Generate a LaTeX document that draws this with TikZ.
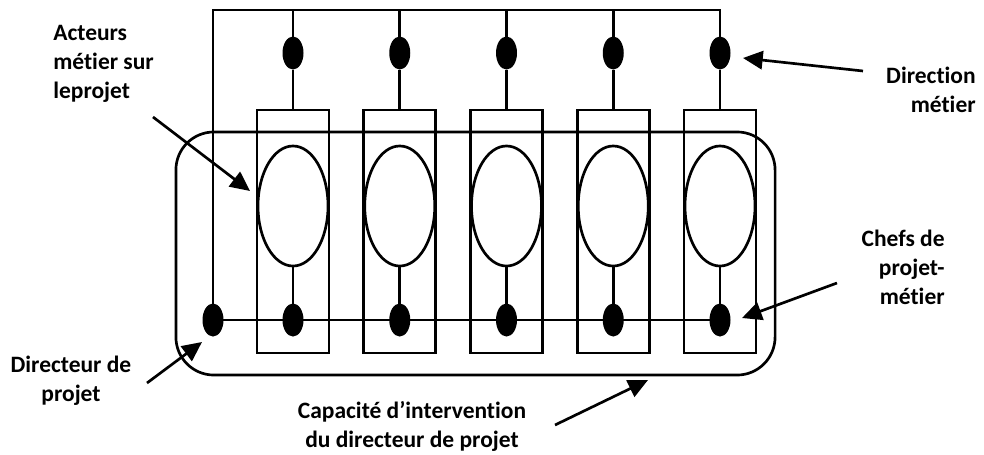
\documentclass[tikz,border=0pt]{standalone}
\usepackage{fontspec}
\setmainfont{Carlito}[Ligatures=NoCommon]
\usetikzlibrary{arrows.meta,shapes.geometric}

\begin{document}
\begin{tikzpicture}[x=0.025cm,y=-0.025cm,line width=1.9pt,
    dot/.style={ellipse,fill=black,inner sep=0pt,outer sep=0pt,minimum width=0.525cm,minimum height=0.825cm},
    colbox/.style={draw,inner sep=0pt,outer sep=0pt,minimum width=1.8cm,minimum height=6.075cm},
    oval/.style={draw,ellipse,inner sep=0pt,outer sep=0pt,minimum width=1.75cm,minimum height=3cm},
    lbl/.style={font=\fontsize{16.7}{20.5}\selectfont\bfseries,inner sep=0pt},
    pointer/.style={-{Triangle[length=14pt,width=13pt]}}]
      \useasboundingbox (0,0) rectangle (984,454);



      \node[draw,rounded corners=27pt,inner sep=0pt,outer sep=0pt,
        minimum width=14.975cm,minimum height=6.075cm] (capa) at (475.5,253.5) {};

      \foreach \i in {1,...,5} {
        \pgfmathsetmacro{\cx}{293+106.75*(\i-1)}
        \node[colbox] (box\i) at (\cx,231.5) {};
        \node[oval] (oval\i) at (\cx,206) {};
        \node[dot] (top\i) at (\cx,53) {};
        \node[dot] (bot\i) at (\cx,320) {};
      }

      \node[dot] (dir) at (213,320) {};


      \coordinate (topL) at (213,10);
      \coordinate (topR) at (720,10);

      \draw (dir.center) -- (topL) -- (topR) -- (top5.center);

      \foreach \i in {1,...,4}
        \draw (top\i.center) -- (top\i |- topL);

      \foreach \i in {1,...,5} {
        \draw (top\i.south) -- (box\i.north);
        \draw (oval\i.south) -- (bot\i.north);
      }

      \draw (dir.center) -- (bot5.center);



      \node[lbl,align=left,anchor=north west] (acteurs) at (52,24)
        {Acteurs\\métier sur\\leprojet};

      \node[lbl,align=right,anchor=north east] (direction) at (977,66)
        {Direction\\métier};

      \node[lbl,align=right,anchor=north east] (chefs) at (946,229)
        {Chefs de\\projet-\\métier};

      \node[lbl,align=center,anchor=north] (directeur) at (71,355)
        {Directeur de\\projet};

      \node[lbl,align=center,anchor=north] (capacite) at (412,400)
        {Capacité d’intervention\\du directeur de projet};


      \coordinate (acteursTail) at (153,117);
      \coordinate (acteursHead) at (250,191);
      \coordinate (directionTail) at (863,71);
      \coordinate (directionHead) at (743,58);
      \coordinate (chefsTail) at (837,283);
      \coordinate (chefsHead) at (742,318);
      \coordinate (directeurTail) at (147,383);
      \coordinate (directeurHead) at (202,342);
      \coordinate (capaciteTail) at (555,425);
      \coordinate (capaciteHead) at (648,380);

      \draw[pointer] (acteursTail) -- (acteursHead);
      \draw[pointer] (directionTail) -- (directionHead);
      \draw[pointer] (chefsTail) -- (chefsHead);
      \draw[pointer] (directeurTail) -- (directeurHead);
      \draw[pointer] (capaciteTail) -- (capaciteHead);
    \end{tikzpicture}
\end{document}
